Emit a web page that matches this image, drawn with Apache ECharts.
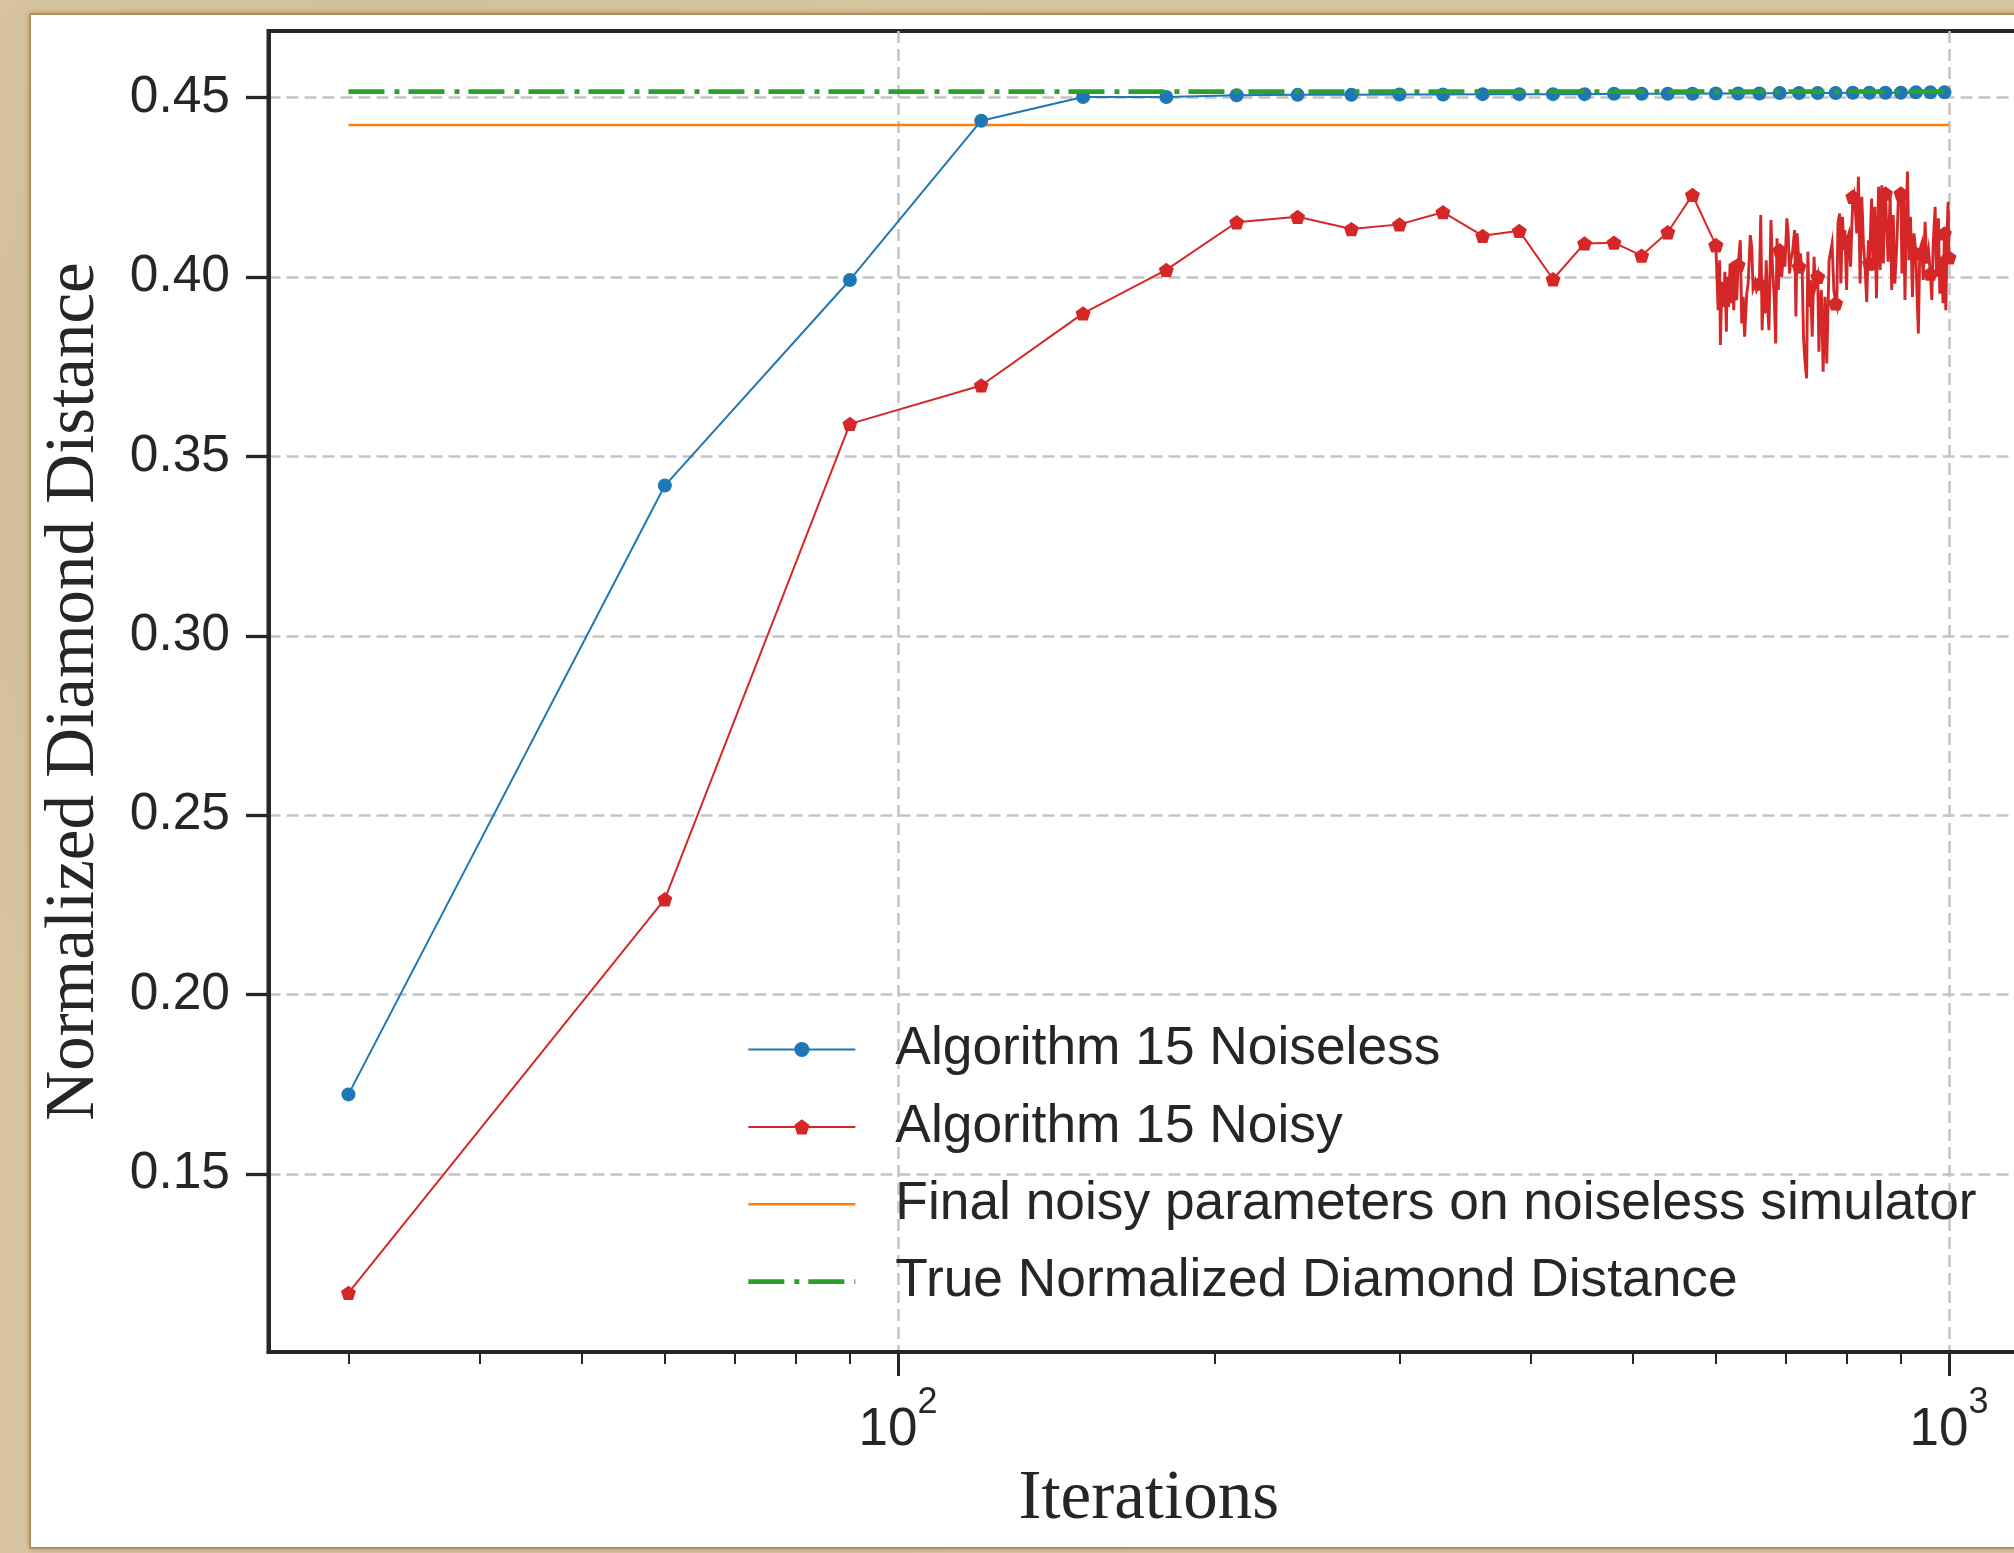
<!DOCTYPE html>
<html>
<head>
<meta charset="utf-8">
<title>Normalized Diamond Distance vs Iterations</title>
<script src="https://cdn.jsdelivr.net/npm/echarts@6/dist/echarts.min.js"></script>
<style>
  html, body { margin: 0; padding: 0; width: 2014px; height: 1553px; overflow: hidden; }
  body {
    position: relative;
    background-color: #d8c6a2;
    background-image:
      radial-gradient(circle at 20% 30%, rgba(190,165,120,0.35) 0, rgba(190,165,120,0) 40%),
      radial-gradient(circle at 80% 70%, rgba(230,215,185,0.35) 0, rgba(230,215,185,0) 45%);
  }
  #paper {
    position: absolute; left: 31px; top: 15px; width: 2120px; height: 1532px;
    background: #ffffff;
    box-shadow: 0 0 0 1.5px #a9895a, 0 0 5px 2px rgba(130, 98, 52, 0.55);
  }
  #chart { position: absolute; left: 0; top: 0; width: 2100px; height: 1553px; }
</style>
</head>
<body>
<div id="paper"></div>
<div id="chart"></div>
<script>
// ---- data ----------------------------------------------------------------
const noiselessIterations = [30, 60, 90, 120, 150, 180, 210, 240, 270, 300, 330, 360, 390, 420, 450,
  480, 510, 540, 570, 600, 630, 660, 690, 720, 750, 780, 810, 840, 870, 900, 930, 960, 990];
const noiselessValues = [0.1722, 0.3419, 0.3992, 0.4436, 0.4502, 0.4502, 0.4507, 0.4508, 0.4508, 0.4509,
  0.4509, 0.4510, 0.4510, 0.4510, 0.4510, 0.4511, 0.4511, 0.4511, 0.4511, 0.4512, 0.4512, 0.4512,
  0.4513, 0.4513, 0.4513, 0.4513, 0.4514, 0.4514, 0.4514, 0.4514, 0.4515, 0.4515, 0.4515];

// noisy run, phase 1: evaluated every 30 iterations up to 600
const noisyCoarseIterations = [30, 60, 90, 120, 150, 180, 210, 240, 270, 300, 330, 360, 390, 420, 450,
  480, 510, 540, 570, 600];
const noisyCoarseValues = [0.1169, 0.2266, 0.3591, 0.3698, 0.3899, 0.4020, 0.4153, 0.4168, 0.4134,
  0.4147, 0.4181, 0.4115, 0.4129, 0.3994, 0.4094, 0.4096, 0.4060, 0.4125, 0.4229, 0.4089];

// noisy run, phase 2: evaluated densely from 600 to 1000
const noisyDenseIterations = [600,
  603, 605, 606, 608, 610, 612, 614, 615, 617, 619, 621, 622, 624, 626, 628, 630, 633, 635, 637, 639,
  642, 644, 647, 649, 651, 654, 656, 660, 662, 664, 666, 668, 670, 672, 674, 677, 679, 682, 684, 686,
  688, 690, 693, 696, 698, 701, 703, 705, 707, 710, 713, 715, 717, 720, 722, 725, 727, 729, 732, 734,
  736, 738, 741, 744, 746, 750, 752, 754, 756, 759, 762, 765, 769, 774, 777, 780, 782, 784, 787, 789,
  792, 794, 796, 799, 801, 803, 806, 810, 812, 814, 817, 820, 823, 826, 829, 832, 835, 838, 840, 844,
  847, 850, 853, 857, 860, 863, 866, 868, 870, 875, 879, 882, 885, 888, 892, 895, 900, 902, 905, 908,
  911, 913, 916, 919, 923, 926, 930, 932, 935, 938, 942, 945, 949, 952, 956, 960, 963, 966, 970, 973,
  977, 980, 984, 987, 990, 993, 996, 998, 1000];
const noisyDenseValues = [0.4089,
  0.3908, 0.4047, 0.3811, 0.3987, 0.3917, 0.4015, 0.3848, 0.4001, 0.3917, 0.4038, 0.3927, 0.4043,
  0.3908, 0.4047, 0.3936, 0.4034, 0.4103, 0.3871, 0.3945, 0.3834, 0.3954, 0.3982, 0.4117, 0.4085,
  0.3968, 0.3987, 0.3964, 0.3982, 0.4173, 0.3852, 0.3973, 0.3899, 0.4047, 0.3917, 0.3852, 0.4159,
  0.4038, 0.3936, 0.3815, 0.4108, 0.3964, 0.4075, 0.4001, 0.4066, 0.4029, 0.4164, 0.4122, 0.4010,
  0.4047, 0.4075, 0.4131, 0.3890, 0.4122, 0.4029, 0.4066, 0.4010, 0.3834, 0.3773, 0.3718, 0.4071,
  0.3917, 0.3992, 0.3834, 0.4057, 0.3973, 0.4001, 0.3792, 0.3936, 0.3964, 0.3736, 0.3945, 0.3759,
  0.4047, 0.4094, 0.3964, 0.3927, 0.3917, 0.4150, 0.4177, 0.3982, 0.4168, 0.4075, 0.4131, 0.3964,
  0.4112, 0.4122, 0.4029, 0.4224, 0.4233, 0.4196, 0.4122, 0.4280, 0.3982, 0.4224, 0.4094, 0.4029,
  0.3931, 0.4103, 0.4038, 0.4219, 0.4020, 0.4196, 0.3941, 0.4252, 0.4020, 0.4256, 0.4038, 0.4205,
  0.4233, 0.4043, 0.4233, 0.3964, 0.4173, 0.3982, 0.4094, 0.4224, 0.4233, 0.4010, 0.4219, 0.3936,
  0.4187, 0.4294, 0.4047, 0.4168, 0.3945, 0.4122, 0.4066, 0.3964, 0.3843, 0.4075, 0.4094, 0.3992,
  0.4154, 0.4038, 0.4075, 0.4010, 0.3936, 0.4094, 0.4196, 0.4001, 0.4164, 0.3954, 0.4057, 0.3927,
  0.4122, 0.3908, 0.4131, 0.4210, 0.4055];

const referenceIterations = [30, 1000];
const finalNoisyOnNoiseless = 0.4424;
const trueDiamondDistance = 0.4517;

const yTickValues = [0.15, 0.20, 0.25, 0.30, 0.35, 0.40, 0.45];
const xMajorTickValues = [100, 1000];
const xMinorTickValues = [30, 40, 50, 60, 70, 80, 90, 200, 300, 400, 500, 600, 700, 800, 900];

const seriesNames = [
  'Algorithm 15 Noiseless',
  'Algorithm 15 Noisy',
  'Final noisy parameters on noiseless simulator',
  'True Normalized Diamond Distance'
];

// ---- styling ---------------------------------------------------------------
const BLUE = '#1f77b4', RED = '#d62728', ORANGE = '#ff7f0e', GREEN = '#2ca02c';
const INK = '#262626';
const SANS = 'Liberation Sans, Arial, sans-serif';
const SERIF = 'Liberation Serif, Times New Roman, serif';
const PENTAGON = 'path://M0,-1 L0.951,-0.309 L0.588,0.809 L-0.588,0.809 L-0.951,-0.309 Z';

const X_MIN = 25.18, X_MAX = 1191.5;
const Y_MIN = 0.1004, Y_MAX = 0.4686;

const gridLine = { color: '#c4c4c4', width: 2.5, type: [12, 6] };

const pairs = (xs, ys) => xs.map((x, i) => [x, ys[i]]);
const constantLine = (xs, v) => xs.map(x => [x, v]);
// pentagon markers every 30 iterations and on the final evaluation
const noisyMarkerSize = v => (v[0] % 30 === 0 || v[0] === 1000) ? [15, 14.3] : 0;

const chart = echarts.init(document.getElementById('chart'), null, { renderer: 'canvas', width: 2100, height: 1553 });

chart.setOption({
  animation: false,
  grid: {
    left: 268.5, top: 31, width: 1760.5, height: 1321,
    show: true, borderColor: INK, borderWidth: 4, backgroundColor: 'transparent'
  },
  legend: {
    orient: 'vertical', left: 746, top: 1023, padding: 0,
    itemWidth: 107, itemHeight: 19, itemGap: 24.4,
    selectedMode: false,
    textStyle: { fontFamily: SANS, fontSize: 53.3, lineHeight: 52, color: INK, padding: [0, 0, 0, 35] },
    lineStyle: { width: 'inherit' },
    data: [
      { name: seriesNames[0] },
      { name: seriesNames[1] },
      { name: seriesNames[2], itemStyle: { opacity: 0 } },
      { name: seriesNames[3], itemStyle: { opacity: 0 } }
    ]
  },
  xAxis: [{
    type: 'log', logBase: 10, min: X_MIN, max: X_MAX, position: 'bottom',
    name: 'Iterations', nameLocation: 'middle', nameGap: 113,
    nameTextStyle: { fontFamily: SERIF, fontSize: 69, color: INK },
    axisLine: { show: true, onZero: false, lineStyle: { color: INK, width: 4 } },
    axisTick: { show: true, inside: false, length: 24, customValues: xMajorTickValues,
      lineStyle: { color: INK, width: 3 } },
    axisLabel: {
      show: true, margin: 33, customValues: xMajorTickValues,
      formatter: v => '{b|10}{e|' + Math.round(Math.log10(v)) + '}',
      rich: {
        b: { fontFamily: SANS, fontSize: 53, lineHeight: 90, color: INK },
        e: { fontFamily: SANS, fontSize: 36, lineHeight: 14, verticalAlign: 'top', color: INK }
      }
    },
    splitLine: { show: true, lineStyle: gridLine },
    minorTick: { show: false }, minorSplitLine: { show: false }
  }, {
    type: 'log', logBase: 10, min: X_MIN, max: X_MAX, position: 'bottom', gridIndex: 0,
    axisLine: { show: false, onZero: false },
    axisTick: { show: true, inside: false, length: 12, customValues: xMinorTickValues,
      lineStyle: { color: INK, width: 2 } },
    axisLabel: { show: false },
    splitLine: { show: false }
  }],
  yAxis: {
    type: 'value', min: Y_MIN, max: Y_MAX,
    name: 'Normalized Diamond Distance', nameLocation: 'middle', nameGap: 159.6, nameRotate: 90,
    nameTextStyle: { fontFamily: SERIF, fontSize: 69, color: INK },
    axisLine: { show: true, lineStyle: { color: INK, width: 4 } },
    axisTick: { show: true, inside: false, length: 22.5, customValues: yTickValues,
      lineStyle: { color: INK, width: 3.3 } },
    axisLabel: { margin: 38.5, customValues: yTickValues, formatter: v => v.toFixed(2),
      fontFamily: SANS, fontSize: 51.5, color: INK },
    splitLine: { show: true, lineStyle: gridLine }
  },
  series: [{
    name: seriesNames[0], type: 'line', xAxisIndex: 0, z: 3,
    data: pairs(noiselessIterations, noiselessValues),
    symbol: 'circle', symbolSize: 14,
    lineStyle: { color: BLUE, width: 2 }, itemStyle: { color: BLUE },
    emphasis: { disabled: true }, silent: true
  }, {
    name: seriesNames[1], type: 'line', xAxisIndex: 0, z: 3,
    data: pairs(noisyCoarseIterations, noisyCoarseValues),
    symbol: PENTAGON, symbolSize: noisyMarkerSize,
    lineStyle: { color: RED, width: 2 }, itemStyle: { color: RED },
    emphasis: { disabled: true }, silent: true
  }, {
    name: seriesNames[1], type: 'line', xAxisIndex: 0, z: 3,
    data: pairs(noisyDenseIterations, noisyDenseValues),
    symbol: PENTAGON, symbolSize: noisyMarkerSize,
    lineStyle: { color: RED, width: 2.9, join: 'miter' }, itemStyle: { color: RED },
    emphasis: { disabled: true }, silent: true
  }, {
    name: seriesNames[2], type: 'line', xAxisIndex: 0, z: 2,
    data: constantLine(referenceIterations, finalNoisyOnNoiseless),
    symbol: 'none',
    lineStyle: { color: ORANGE, width: 2.6 }, itemStyle: { color: ORANGE },
    emphasis: { disabled: true }, silent: true
  }, {
    name: seriesNames[3], type: 'line', xAxisIndex: 0, z: 4,
    data: constantLine(referenceIterations, trueDiamondDistance),
    symbol: 'none',
    lineStyle: { color: GREEN, width: 4.7, type: [36, 10, 5, 9], cap: 'butt' }, itemStyle: { color: GREEN },
    emphasis: { disabled: true }, silent: true
  }]
});
</script>
</body>
</html>
